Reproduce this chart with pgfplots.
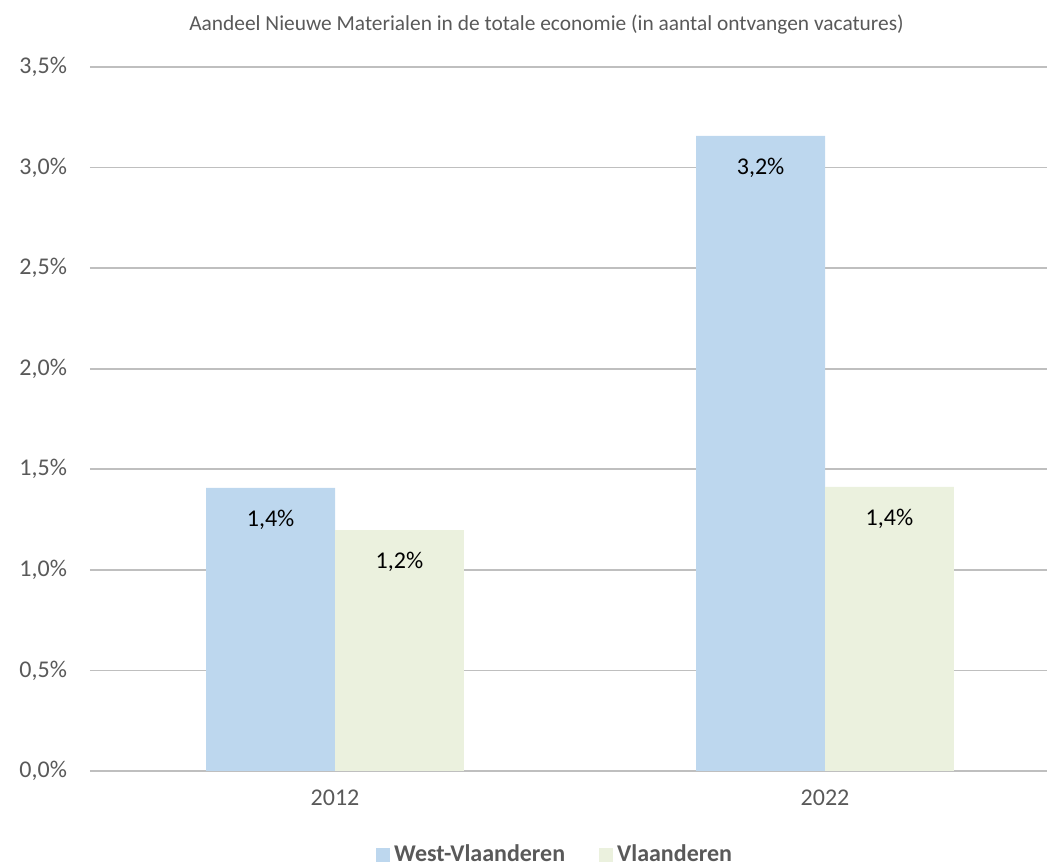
\documentclass[border=0pt]{standalone}
\usepackage{pgfplots}
\pgfplotsset{compat=1.18}
\usepackage{fontspec}
\setmainfont{Carlito}
\definecolor{wv}{HTML}{BDD7EE}
\definecolor{vl}{HTML}{EBF1DE}
\definecolor{grid}{HTML}{D9D9D9}
\definecolor{txt}{HTML}{595959}
\begin{document}
\begin{tikzpicture}
\path[use as bounding box] (-45pt,-47pt) rectangle (479pt,385.5pt);
\begin{axis}[
  at={(0,0)}, anchor=south west,
  scale only axis, width=478.5pt, height=352pt,
  xmin=-0.5, xmax=1.453, ymin=0, ymax=3.5,
  ybar, bar width=0.263,
  axis line style={draw=none},
  ytick={0,0.5,...,3.5},
  ymajorgrids, xmajorgrids=false, grid style={grid, line width=0.9pt},
  major tick length=0pt,
  xtick={0,1}, xticklabels={2012,2022},
  xticklabel style={font=\fontsize{12}{14}\selectfont, text=txt, yshift=-6pt},
  yticklabel style={font=\fontsize{12}{14}\selectfont, text=txt, xshift=-8pt},
  /pgf/number format/assume math mode=true,
  yticklabel={\pgfmathprintnumber[fixed, fixed zerofill, precision=1, use comma]{\tick}\%},
  clip=false,
  title={Aandeel Nieuwe Materialen in de totale economie (in aantal ontvangen vacatures)},
  title style={font=\fontsize{10.7}{12}\selectfont, text=txt, at={(0.477,1)}, anchor=south, yshift=7pt},
  legend style={draw=none, at={(0.487,0)}, anchor=center, yshift=-42pt, legend columns=2,
    font=\bfseries\fontsize{12}{14}\selectfont, text=txt, /tikz/every even column/.append style={column sep=15pt}},
  legend image code/.code={\fill[#1] (0pt,-3.3pt) rectangle (7pt,3.3pt);},
  nodes near coords,
  point meta=explicit symbolic,
  every node near coord/.append style={font=\fontsize{12}{14}\selectfont, text=black, anchor=center, yshift=-16pt},
]
\addplot[fill=wv, draw=none, bar shift=-0.1315] coordinates {(0,1.407) [1,4\%] (1,3.157) [3,2\%]};
\addplot[fill=vl, draw=none, bar shift=0.1315] coordinates {(0,1.198) [1,2\%] (1,1.412) [1,4\%]};
\legend{West-Vlaanderen, Vlaanderen}
\end{axis}
\end{tikzpicture}
\end{document}
